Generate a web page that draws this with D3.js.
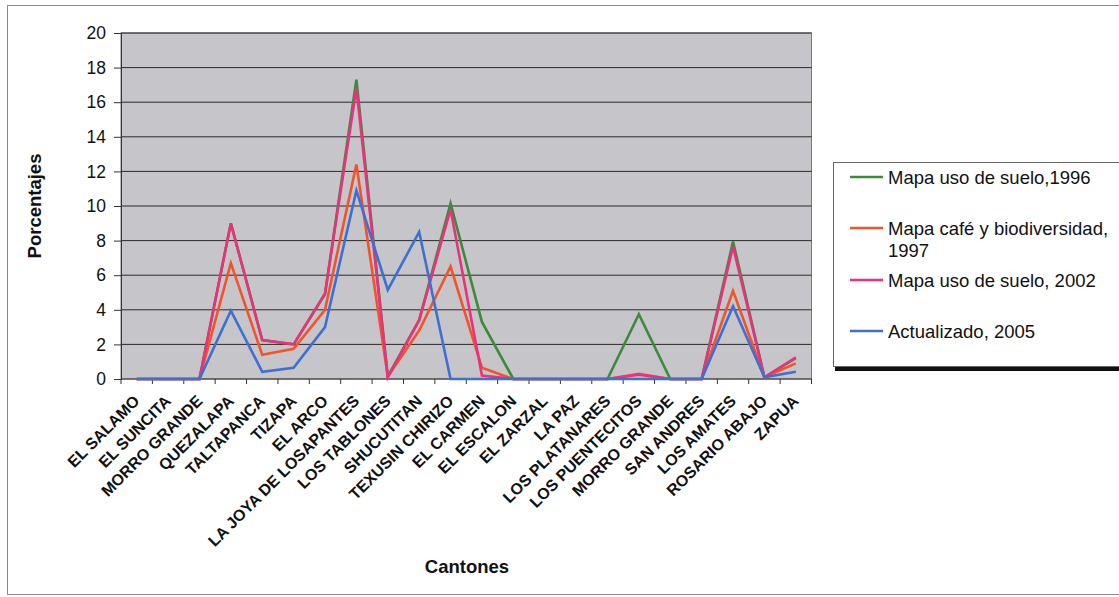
<!DOCTYPE html>
<html>
<head>
<meta charset="utf-8">
<script src="https://cdn.jsdelivr.net/npm/d3@7"></script>
<style>
  html, body { margin: 0; padding: 0; background: #ffffff; }
  svg { display: block; font-family: "Liberation Sans", Arial, sans-serif; }
</style>
</head>
<body>
<svg id="chart" width="1119" height="597"></svg>
<script>
// Cantones (x categories)
const cantones = [
  "EL SALAMO", "EL SUNCITA", "MORRO GRANDE", "QUEZALAPA", "TALTAPANCA", "TIZAPA",
  "EL ARCO", "LA JOYA DE LOSAPANTES", "LOS TABLONES", "SHUCUTITAN", "TEXUSIN CHIRIZO",
  "EL CARMEN", "EL ESCALON", "EL ZARZAL", "LA PAZ", "LOS PLATANARES", "LOS PUENTECITOS",
  "MORRO GRANDE", "SAN ANDRES", "LOS AMATES", "ROSARIO ABAJO", "ZAPUA"
];

// Percentages per source
const uso1996 = [0, 0, 0, 9.0, 2.25, 2.0, 4.9, 17.3, 0.15, 3.4, 10.15, 3.3, 0, 0, 0, 0, 3.75, 0, 0, 7.95, 0.1, 1.2];
const cafe1997 = [0, 0, 0, 6.7, 1.4, 1.75, 4.0, 12.4, 0.15, 2.8, 6.5, 0.65, 0, 0, 0, 0, 0.3, 0, 0, 5.1, 0.1, 0.9];
const uso2002 = [0, 0, 0, 9.0, 2.25, 2.0, 4.95, 16.8, 0.1, 3.4, 9.8, 0.2, 0, 0, 0, 0, 0.25, 0, 0, 7.65, 0.1, 1.25];
const act2005 = [0, 0, 0, 3.95, 0.42, 0.65, 3.0, 10.9, 5.15, 8.5, 0, 0, 0, 0, 0, 0, 0, 0, 0, 4.2, 0.1, 0.42];

const seriesNames = ["Mapa uso de suelo,1996", "Mapa café y biodiversidad,\n1997", "Mapa uso de suelo, 2002", "Actualizado, 2005"];
const seriesColors = ["#3d8a3a", "#f2532c", "#e8327c", "#3f6fd0"];
const yTicks = [0, 2, 4, 6, 8, 10, 12, 14, 16, 18, 20];

const series = [uso1996, cafe1997, uso2002, act2005].map((values, i) => ({
  name: seriesNames[i], color: seriesColors[i], values
}));

const svg = d3.select("#chart");
const plot = { left: 121, right: 811.5, top: 33, bottom: 379 };

// outer chart frame
svg.append("rect")
  .attr("x", 7.5).attr("y", 5.5)
  .attr("width", 1125).attr("height", 589)
  .attr("fill", "#ffffff").attr("stroke", "#8a8a8a").attr("stroke-width", 1);

const x = d3.scaleBand().domain(d3.range(cantones.length)).range([plot.left, plot.right]);
const y = d3.scaleLinear().domain([0, 20]).range([plot.bottom, plot.top]);

// plot area
svg.append("rect")
  .attr("x", plot.left).attr("y", plot.top)
  .attr("width", plot.right - plot.left).attr("height", plot.bottom - plot.top)
  .attr("fill", "#c6c6ca").attr("stroke", "#7a7a7a").attr("stroke-width", 1);

// horizontal gridlines
svg.append("g").selectAll("line").data(yTicks.filter(t => t > 0)).join("line")
  .attr("x1", plot.left).attr("x2", plot.right)
  .attr("y1", d => y(d)).attr("y2", d => y(d))
  .attr("stroke", "#2a2a2a").attr("stroke-width", 1);

// y axis
const yAxis = svg.append("g")
  .attr("transform", `translate(${plot.left},0)`)
  .call(d3.axisLeft(y).tickValues(yTicks).tickSize(7).tickPadding(8));
yAxis.select(".domain").attr("stroke", "#333");
yAxis.selectAll(".tick line").attr("stroke", "#333");
yAxis.selectAll("text")
  .attr("font-size", 17.5).attr("fill", "#111")
  .attr("font-family", "Liberation Sans, Arial, sans-serif");

// x axis with ticks between categories
const xAxisG = svg.append("g");
xAxisG.append("line")
  .attr("x1", plot.left).attr("x2", plot.right)
  .attr("y1", plot.bottom).attr("y2", plot.bottom)
  .attr("stroke", "#333");
const boundaries = d3.range(cantones.length + 1).map(i => plot.left + i * x.step());
xAxisG.selectAll("line.tk").data(boundaries).join("line")
  .attr("class", "tk")
  .attr("x1", d => d).attr("x2", d => d)
  .attr("y1", plot.bottom).attr("y2", plot.bottom + 5)
  .attr("stroke", "#333");

xAxisG.selectAll("text").data(cantones).join("text")
  .attr("transform", (d, i) => `translate(${x(i) + x.bandwidth() / 2},${plot.bottom + 19}) rotate(-45)`)
  .attr("text-anchor", "end")
  .attr("dy", "0.35em")
  .attr("font-size", 16).attr("font-weight", "bold").attr("fill", "#111")
  .text(d => d);

// series lines
const line = d3.line()
  .x((d, i) => x(i) + x.bandwidth() / 2)
  .y(d => y(d));

svg.append("g").selectAll("path").data(series).join("path")
  .attr("d", d => line(d.values))
  .attr("fill", "none")
  .attr("stroke", d => d.color)
  .attr("stroke-width", 2.6)
  .attr("stroke-linejoin", "miter");

// axis titles
svg.append("text")
  .attr("transform", `translate(41,206) rotate(-90)`)
  .attr("text-anchor", "middle")
  .attr("font-size", 18.5).attr("font-weight", "bold").attr("fill", "#111")
  .text("Porcentajes");

svg.append("text")
  .attr("x", 467).attr("y", 573)
  .attr("text-anchor", "middle")
  .attr("font-size", 18.5).attr("font-weight", "bold").attr("fill", "#111")
  .text("Cantones");

// legend
const legend = svg.append("g");
legend.append("rect")
  .attr("x", 835).attr("y", 366)
  .attr("width", 300).attr("height", 5)
  .attr("fill", "#111");
legend.append("rect")
  .attr("x", 833.5).attr("y", 162.5)
  .attr("width", 300).attr("height", 204)
  .attr("fill", "#ffffff").attr("stroke", "#666").attr("stroke-width", 1);

const legendY = [177, 228, 280, 331];
series.forEach((s, i) => {
  const g = legend.append("g");
  g.append("line")
    .attr("x1", 850).attr("x2", 883)
    .attr("y1", legendY[i]).attr("y2", legendY[i])
    .attr("stroke", s.color).attr("stroke-width", 2.6);
  const t = g.append("text")
    .attr("x", 888).attr("y", legendY[i] + 6.5)
    .attr("font-size", 18.5).attr("fill", "#111");
  s.name.split("\n").forEach((part, k) => {
    t.append("tspan").attr("x", 888).attr("dy", k === 0 ? 0 : 22).text(part);
  });
});
</script>
</body>
</html>
